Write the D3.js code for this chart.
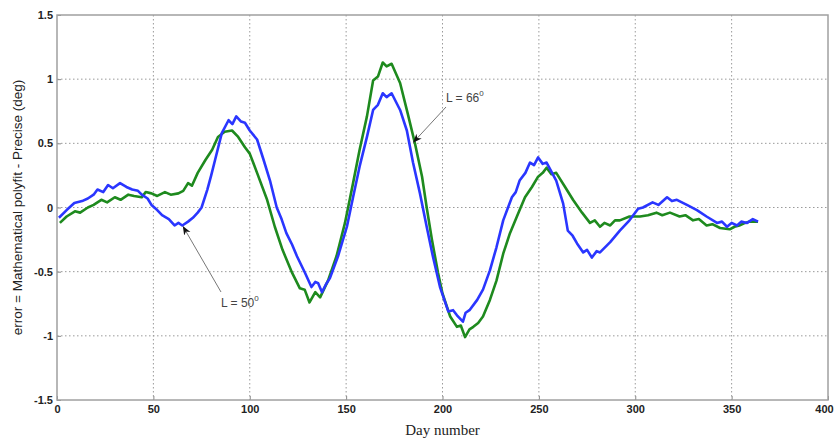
<!DOCTYPE html>
<html>
<head>
<meta charset="utf-8">
<script src="https://cdn.jsdelivr.net/npm/d3@7"></script>
<style>
  body { margin: 0; background: #fff; }
  svg { display: block; }
</style>
</head>
<body>
<script>
// day number vs error (deg)
var dayTicks = [0, 50, 100, 150, 200, 250, 300, 350, 400];
var errTicks = [-1.5, -1, -0.5, 0, 0.5, 1, 1.5];

var L50 = [ // blue
  [1, -0.08], [5, -0.02], [9, 0.035], [13, 0.05], [16, 0.07], [19, 0.1], [21, 0.14], [24, 0.12],
  [26.5, 0.175], [29, 0.15], [32.7, 0.19], [36, 0.16], [39, 0.14], [42, 0.13], [44, 0.1], [47, 0.07],
  [49, 0.02], [52, -0.02], [54.5, -0.06], [58, -0.09], [61, -0.14], [63, -0.12], [65, -0.14],
  [68, -0.11], [70.5, -0.08], [73, -0.04], [75, 0.0], [78, 0.14], [80, 0.25], [82, 0.37],
  [85.5, 0.58], [89, 0.68], [91, 0.65], [93, 0.71], [95.5, 0.67], [97.5, 0.66], [100, 0.6],
  [103.8, 0.53], [107, 0.38], [110.5, 0.21], [114, 0.0], [116.5, -0.09], [119, -0.2],
  [122, -0.29], [124.5, -0.38], [128.7, -0.51], [132, -0.62], [134, -0.58], [135.5, -0.59],
  [137.5, -0.66], [139.5, -0.6], [141.6, -0.55], [145.8, -0.38], [150.4, -0.15], [153.6, 0.08],
  [157, 0.32], [160.8, 0.55], [164, 0.76], [166.5, 0.8], [169, 0.89], [171, 0.86], [173.6, 0.89],
  [178, 0.76], [181.5, 0.6], [184.7, 0.35], [188.3, 0.11], [191.8, -0.15], [195, -0.38],
  [198.7, -0.62], [203, -0.81], [205.5, -0.8], [207.5, -0.84], [210.6, -0.89], [212, -0.82],
  [214, -0.8], [218, -0.72], [221, -0.64], [224.6, -0.49], [228, -0.31], [231.5, -0.1],
  [236, 0.08], [238, 0.12], [240, 0.21], [243, 0.27], [245.4, 0.35], [247.5, 0.33], [249.6, 0.39],
  [252, 0.34], [254, 0.35], [259, 0.21], [262.6, 0.03], [265, -0.18], [267.5, -0.22],
  [269.8, -0.28], [273, -0.35], [275, -0.33], [277.5, -0.39], [280, -0.34], [281.7, -0.35],
  [287, -0.27], [292, -0.18], [297, -0.1], [301.5, -0.01], [304, 0.0], [309, 0.04], [312, 0.02],
  [316.5, 0.08], [319, 0.05], [321.6, 0.06], [326.8, 0.02], [332, -0.02], [337, -0.07],
  [342.4, -0.12], [345, -0.11], [347.6, -0.15], [350, -0.12], [352.8, -0.14], [355, -0.11],
  [358, -0.12], [361, -0.09], [363.7, -0.11]
];

var L66 = [ // green
  [1.5, -0.12], [5, -0.07], [9.3, -0.03], [12, -0.04], [16, 0.0], [19, 0.02], [23, 0.06],
  [26, 0.04], [30, 0.08], [33, 0.06], [37, 0.1], [40, 0.09], [44, 0.08], [46, 0.12], [49, 0.11],
  [52, 0.09], [56, 0.12], [59, 0.1], [63, 0.11], [65.5, 0.13], [68, 0.19], [70, 0.17],
  [73, 0.27], [77, 0.37], [80.5, 0.45], [83.5, 0.55], [87, 0.59], [90.8, 0.6], [94, 0.55],
  [97.5, 0.47], [100, 0.42], [103.8, 0.27], [109, 0.06], [113, -0.15], [117, -0.33],
  [122, -0.51], [126, -0.63], [128.5, -0.64], [131, -0.74], [134, -0.66], [136.5, -0.7],
  [140.6, -0.57], [145, -0.38], [149.4, -0.12], [153.6, 0.19], [157, 0.45], [160.8, 0.71],
  [164, 0.99], [166.5, 1.02], [169, 1.13], [171, 1.1], [173.6, 1.12], [178, 0.97], [182, 0.73],
  [185.7, 0.5], [189.4, 0.24], [191.8, 0.0], [194.5, -0.25], [197.7, -0.51], [200, -0.67],
  [204, -0.85], [207.5, -0.93], [209.5, -0.92], [211.7, -1.01], [214, -0.95], [216, -0.93],
  [218.5, -0.9], [221, -0.85], [224.6, -0.72], [228, -0.57], [231.5, -0.36], [235, -0.2],
  [238.6, -0.07], [242.8, 0.08], [246.4, 0.16], [249.6, 0.24], [252, 0.27], [254, 0.31],
  [256.5, 0.26], [259, 0.27], [263.6, 0.16], [267.7, 0.06], [272.4, -0.04], [276.5, -0.12],
  [279, -0.1], [281.7, -0.15], [284, -0.12], [287, -0.14], [289.5, -0.1], [292, -0.1],
  [297, -0.07], [302.5, -0.07], [306.6, -0.06], [311, -0.04], [314, -0.06], [318, -0.04],
  [323, -0.07], [326, -0.06], [330, -0.1], [333, -0.09], [337, -0.14], [340, -0.13],
  [344, -0.16], [349, -0.17], [351.5, -0.15], [354, -0.14], [357, -0.12], [359.5, -0.11],
  [363.7, -0.11]
];

var W = 836, H = 440;
var m = { left: 57, right: 8, top: 15, bottom: 40 };

var svg = d3.select("body").append("svg")
  .attr("width", W)
  .attr("height", H);

var x = d3.scaleLinear().domain([0, 400]).range([m.left, W - m.right]);
var y = d3.scaleLinear().domain([-1.5, 1.5]).range([H - m.bottom, m.top]);

// grid
svg.append("g").selectAll("line")
  .data(dayTicks.slice(1, -1))
  .enter().append("line")
  .attr("x1", function (d) { return x(d); })
  .attr("x2", function (d) { return x(d); })
  .attr("y1", y(1.5)).attr("y2", y(-1.5))
  .style("stroke", "#9a9a9a").style("stroke-width", 1)
  .style("stroke-dasharray", "1.5,2.5");

svg.append("g").selectAll("line")
  .data(errTicks.slice(1, -1))
  .enter().append("line")
  .attr("x1", x(0)).attr("x2", x(400))
  .attr("y1", function (d) { return y(d); })
  .attr("y2", function (d) { return y(d); })
  .style("stroke", "#9a9a9a").style("stroke-width", 1)
  .style("stroke-dasharray", "1.5,2.5");

// axes
var xAxis = svg.append("g")
  .attr("transform", "translate(0," + y(-1.5) + ")")
  .call(d3.axisBottom(x).tickValues(dayTicks).tickSize(-4).tickPadding(5)
    .tickFormat(d3.format("d")));
var yAxis = svg.append("g")
  .attr("transform", "translate(" + x(0) + ",0)")
  .call(d3.axisLeft(y).tickValues(errTicks).tickSize(-4).tickPadding(4)
    .tickFormat(function (d) { return d; }));

[xAxis, yAxis].forEach(function (a) {
  a.select(".domain").remove();
  a.selectAll(".tick line").style("stroke", "#888");
  a.selectAll("text")
    .style("font-family", "Liberation Sans, Arial, sans-serif")
    .style("font-weight", "bold")
    .style("font-size", "11px")
    .style("fill", "#222");
});

// last x label sits at the window edge; keep it inside
xAxis.selectAll(".tick text")
  .filter(function (d) { return d === 400; })
  .attr("dx", -4);

// frame
svg.append("rect")
  .attr("x", x(0)).attr("y", y(1.5))
  .attr("width", x(400) - x(0)).attr("height", y(-1.5) - y(1.5))
  .style("fill", "none").style("stroke", "#a0a0a0").style("stroke-width", 1.5);

// curves
var line = d3.line()
  .x(function (d) { return x(d[0]); })
  .y(function (d) { return y(d[1]); });

svg.append("path").datum(L66)
  .attr("d", line)
  .style("fill", "none").style("stroke", "#1e8a1e").style("stroke-width", 2.6)
  .style("stroke-linejoin", "round");

svg.append("path").datum(L50)
  .attr("d", line)
  .style("fill", "none").style("stroke", "#2a36ff").style("stroke-width", 2.6)
  .style("stroke-linejoin", "round");

// annotations
svg.append("defs").append("marker")
  .attr("id", "head")
  .attr("viewBox", "0 0 10 10")
  .attr("refX", 9).attr("refY", 5)
  .attr("markerWidth", 9).attr("markerHeight", 9)
  .attr("orient", "auto")
  .append("path").attr("d", "M0,1 L10,5 L0,9 L3,5 Z").style("fill", "#111");

var notes = [
  { label: "L = 66", tx: 446, ty: 102, from: [446, 107], to: [x(185), y(0.51)] },
  { label: "L = 50", tx: 221, ty: 307, from: [221, 292], to: [x(65.5), y(-0.15)] }
];

notes.forEach(function (n) {
  svg.append("line")
    .attr("x1", n.from[0]).attr("y1", n.from[1])
    .attr("x2", n.to[0]).attr("y2", n.to[1])
    .style("stroke", "#777").style("stroke-width", 1)
    .attr("marker-end", "url(#head)");
  var t = svg.append("text")
    .attr("x", n.tx).attr("y", n.ty)
    .style("font-family", "Liberation Sans, Arial, sans-serif")
    .style("font-size", "12px")
    .style("fill", "#444")
    .text(n.label);
  t.append("tspan").attr("dy", -6).style("font-size", "8px").text("0");
});

// axis labels
svg.append("text")
  .attr("x", (x(0) + x(400)) / 2).attr("y", 435)
  .attr("text-anchor", "middle")
  .style("font-family", "Liberation Serif, Times New Roman, serif")
  .style("font-size", "15px")
  .style("fill", "#222")
  .text("Day number");

svg.append("text")
  .attr("transform", "translate(22," + ((y(1.5) + y(-1.5)) / 2) + ") rotate(-90)")
  .attr("text-anchor", "middle")
  .style("font-family", "Liberation Sans, Arial, sans-serif")
  .style("font-size", "13.5px")
  .style("fill", "#222")
  .text("error = Mathematical polyfit - Precise (deg)");
</script>
</body>
</html>
